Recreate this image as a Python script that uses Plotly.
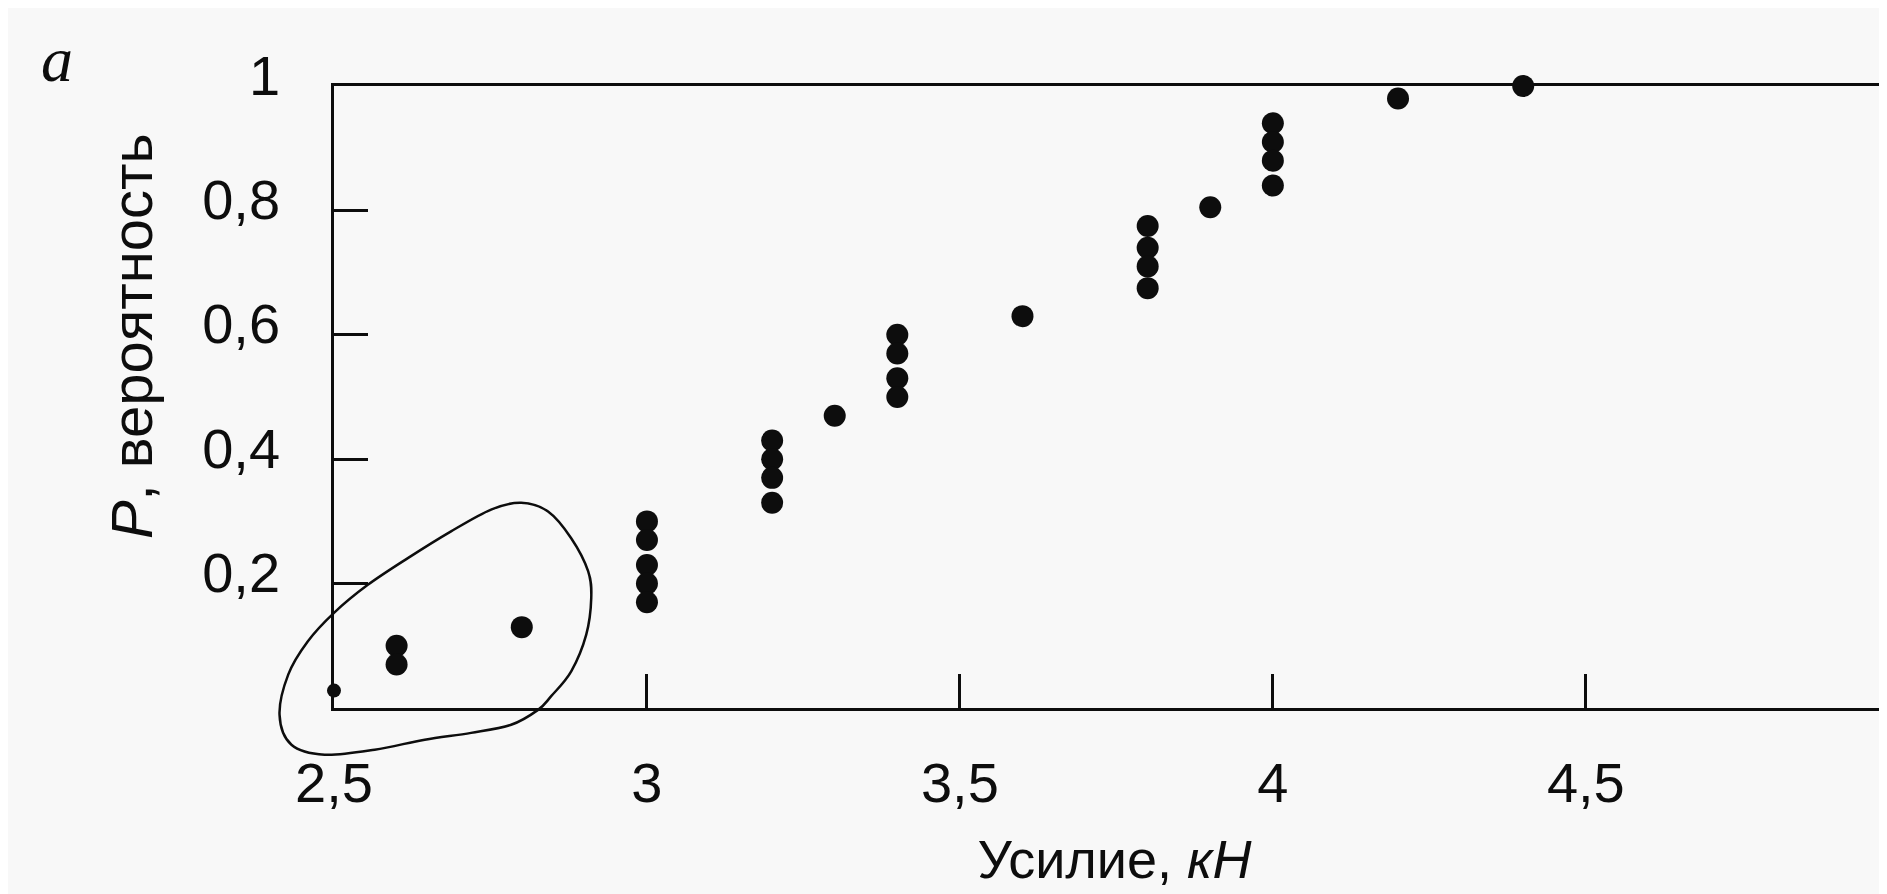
import plotly.graph_objects as go

# ---- data ----
force = [2.6, 2.6, 2.8,
         3.0, 3.0, 3.0, 3.0, 3.0,
         3.2, 3.2, 3.2, 3.2,
         3.3,
         3.4, 3.4, 3.4, 3.4,
         3.6,
         3.8, 3.8, 3.8, 3.8,
         3.9,
         4.0, 4.0, 4.0, 4.0,
         4.2, 4.4]
prob = [0.10, 0.07, 0.13,
        0.30, 0.27, 0.23, 0.20, 0.17,
        0.43, 0.40, 0.37, 0.33,
        0.47,
        0.60, 0.57, 0.53, 0.50,
        0.63,
        0.775, 0.74, 0.71, 0.675,
        0.805,
        0.94, 0.91, 0.88, 0.84,
        0.98, 1.0]

force_small = [2.5]
prob_small = [0.028]

x_tickvals = [2.5, 3, 3.5, 4, 4.5]
x_ticktext = ["2,5", "3", "3,5", "4", "4,5"]
y_tickvals = [0.2, 0.4, 0.6, 0.8, 1.0]
y_ticktext = ["0,2", "0,4", "0,6", "0,8", "1"]

# hand-drawn loop around the low-force points (data coordinates)
loop_force = [2.799, 2.842, 2.879, 2.906, 2.911, 2.903, 2.879, 2.847, 2.826, 2.783,
              2.719, 2.645, 2.565, 2.485, 2.432, 2.413, 2.427, 2.458, 2.500, 2.554,
              2.618, 2.687, 2.751]
loop_prob = [0.330, 0.316, 0.273, 0.220, 0.177, 0.118, 0.059, 0.019, -0.003, -0.027,
             -0.040, -0.051, -0.067, -0.075, -0.059, -0.011, 0.054, 0.107, 0.153, 0.198,
             0.241, 0.284, 0.319]

X_RANGE = [2.5, 4.994]
Y_RANGE = [0.0, 1.0]

INK = "#0d0d0d"
BG = "#f8f8f8"
SANS = "Liberation Sans, Arial, sans-serif"


def to_domain(xs, ys):
    dx = [(v - X_RANGE[0]) / (X_RANGE[1] - X_RANGE[0]) for v in xs]
    dy = [(v - Y_RANGE[0]) / (Y_RANGE[1] - Y_RANGE[0]) for v in ys]
    return list(zip(dx, dy))


def closed_spline_path(pts):
    n = len(pts)
    d = "M{:.5f},{:.5f}".format(*pts[0])
    for i in range(n):
        p0 = pts[(i - 1) % n]
        p1 = pts[i]
        p2 = pts[(i + 1) % n]
        p3 = pts[(i + 2) % n]
        c1 = (p1[0] + (p2[0] - p0[0]) / 6, p1[1] + (p2[1] - p0[1]) / 6)
        c2 = (p2[0] - (p3[0] - p1[0]) / 6, p2[1] - (p3[1] - p1[1]) / 6)
        d += " C{:.5f},{:.5f} {:.5f},{:.5f} {:.5f},{:.5f}".format(c1[0], c1[1], c2[0], c2[1], p2[0], p2[1])
    return d + " Z"


fig = go.Figure()
fig.add_trace(go.Scatter(
    x=force, y=prob, mode="markers",
    marker=dict(size=22, color=INK, line=dict(width=0)),
    cliponaxis=False, showlegend=False, hoverinfo="x+y"))
fig.add_trace(go.Scatter(
    x=force_small, y=prob_small, mode="markers",
    marker=dict(size=14, color=INK, line=dict(width=0)),
    cliponaxis=False, showlegend=False, hoverinfo="x+y"))

fig.add_shape(type="path", xref="x domain", yref="y domain",
              path=closed_spline_path(to_domain(loop_force, loop_prob)),
              line=dict(color=INK, width=2.5), fillcolor="rgba(0,0,0,0)", layer="above")

fig.update_layout(
    width=1887, height=894, autosize=False,
    margin=dict(l=326, r=0, t=78, b=194, pad=0),
    paper_bgcolor=BG, plot_bgcolor=BG,
    font=dict(family=SANS, color=INK, size=56),
    xaxis=dict(
        range=X_RANGE, showgrid=False, zeroline=False,
        showline=True, linecolor=INK, linewidth=2.5, mirror=True,
        ticks="inside", ticklen=34, tickwidth=2.5, tickcolor=INK,
        tickvals=x_tickvals, ticktext=x_ticktext,
        tickfont=dict(size=56, family=SANS, color=INK),
        ticklabelstandoff=24,
        title=dict(text="Усилие, <i>кН</i>", font=dict(size=54, family=SANS, color=INK), standoff=28),
    ),
    yaxis=dict(
        range=Y_RANGE, showgrid=False, zeroline=False,
        showline=True, linecolor=INK, linewidth=2.5, mirror=False,
        ticks="inside", ticklen=34, tickwidth=2.5, tickcolor=INK,
        tickvals=y_tickvals, ticktext=y_ticktext,
        tickfont=dict(size=56, family=SANS, color=INK),
        ticklabelstandoff=40, ticklabelshift=-11,
    ),
    annotations=[
        dict(text="<i>P</i>, вероятность", xref="paper", yref="paper",
             x=-0.130, y=0.598, xanchor="center", yanchor="middle",
             textangle=-90, showarrow=False,
             font=dict(size=58, family=SANS, color=INK)),
        dict(text="<i>a</i>", xref="paper", yref="paper",
             x=-0.1775, y=1.0434, xanchor="center", yanchor="middle",
             showarrow=False,
             font=dict(size=64, family="Liberation Serif, Times New Roman, serif", color=INK)),
    ],
)

fig.write_html("out.html")
